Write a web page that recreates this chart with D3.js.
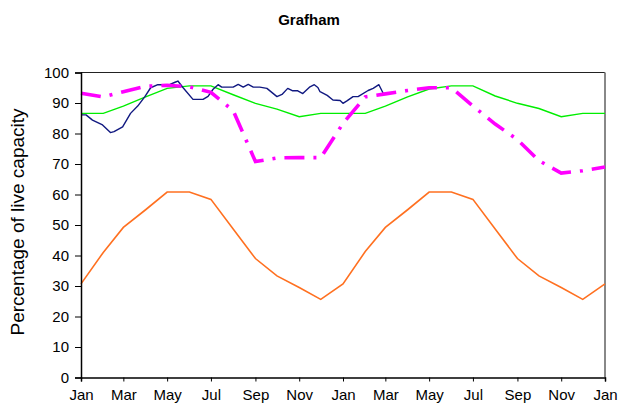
<!DOCTYPE html>
<html>
<head>
<meta charset="utf-8">
<script src="https://cdn.jsdelivr.net/npm/d3@7/dist/d3.min.js"></script>
<style>
  html, body { margin: 0; padding: 0; background: #fff; }
  svg { display: block; font-family: "Liberation Sans", Arial, sans-serif; }
</style>
</head>
<body>
<svg id="chart" width="618" height="407"></svg>
<script>
// Month-start dates covering two years of reservoir storage
const monthDates = [
  "2001-01-01","2001-02-01","2001-03-01","2001-04-01","2001-05-01","2001-06-01",
  "2001-07-01","2001-08-01","2001-09-01","2001-10-01","2001-11-01","2001-12-01",
  "2002-01-01","2002-02-01","2002-03-01","2002-04-01","2002-05-01","2002-06-01",
  "2002-07-01","2002-08-01","2002-09-01","2002-10-01","2002-11-01","2002-12-01",
  "2003-01-01"
];

// Minimum storage curve (orange)
const minimumCurve = [30.7, 41, 49.2, 55, 60.8, 60.8, 58.4, 48.7, 39, 33.3, 29.5, 25.6,
                      30.7, 41.3, 49.2, 55, 60.8, 60.8, 58.4, 48.7, 39, 33.3, 29.5, 25.6, 30.7];

// Average storage curve (green)
const averageCurve = [86.6, 86.6, 89, 92, 94.8, 95.6, 95.6, 92.7, 89.9, 88, 85.5, 86.6,
                      86.6, 86.6, 89, 92, 94.6, 95.6, 95.6, 92.3, 89.9, 88.2, 85.5, 86.6, 86.6];

// Projected storage (magenta dash-dot)
const projectedCurve = [93.2, 92, 93.7, 95.5, 95.8, 95.3, 93.5, 87.5, 70.8, 72, 72.1, 72.1,
                        83.3, 92, 93, 94.1, 95, 95, 89, 83.1, 78, 71.1, 67, 67.8, 69];

// Actual recorded storage (navy)
const actualDates = [
  "2001-01-01","2001-01-08","2001-01-17","2001-01-31","2001-02-11","2001-02-16","2001-02-28",
  "2001-03-11","2001-03-21","2001-03-31","2001-04-08","2001-04-18","2001-04-29","2001-05-05",
  "2001-05-12","2001-05-16","2001-05-23","2001-06-06","2001-06-20","2001-06-27","2001-07-04",
  "2001-07-11","2001-07-16","2001-08-01","2001-08-08","2001-08-15","2001-08-22","2001-08-29",
  "2001-09-07","2001-09-17","2001-10-01","2001-10-08","2001-10-16","2001-10-23","2001-10-30",
  "2001-11-06","2001-11-16","2001-11-22","2001-11-27","2001-11-30","2001-12-10","2001-12-18",
  "2001-12-28","2002-01-01","2002-01-07","2002-01-15","2002-01-22","2002-02-05","2002-02-12",
  "2002-02-20","2002-02-26"
];
const actualValues = [
  86.1, 86.1, 84.4, 82.8, 80.3, 80.6, 82.2,
  86.6, 89, 92.1, 95, 96, 96, 96.1,
  96.8, 97.2, 95.1, 91.2, 91.2, 92.2, 94.5,
  96, 95.2, 95.2, 96.1, 95.2, 96.1, 95.2,
  95.2, 94.8, 92.1, 92.8, 94.8, 94, 94,
  93.1, 95.3, 96, 95.1, 93.7, 92.5, 91,
  90.8, 89.9, 90.8, 92.1, 92.1, 94.1, 94.8,
  96, 93.2
];

const yTicks = [0, 10, 20, 30, 40, 50, 60, 70, 80, 90, 100];
const titleText = "Grafham";
const yLabelText = "Percentage of live capacity";

const parse = d3.timeParse("%Y-%m-%d");
const months = monthDates.map(parse);

const margin = { left: 81, right: 13, top: 72.5, bottom: 29.5 };
const W = 618, H = 407;
const svg = d3.select("#chart");

const x = d3.scaleTime()
  .domain([parse("2001-01-01"), parse("2003-01-01")])
  .range([margin.left, W - margin.right]);
const y = d3.scaleLinear()
  .domain([0, 100])
  .range([H - margin.bottom, margin.top]);

// Plot frame: dark top edge, grey right edge
svg.append("line")
  .attr("x1", x.range()[0]).attr("x2", x.range()[1])
  .attr("y1", y(100)).attr("y2", y(100))
  .attr("stroke", "#222").attr("stroke-width", 1);
svg.append("line")
  .attr("x1", x.range()[1]).attr("x2", x.range()[1])
  .attr("y1", y(100)).attr("y2", y(0))
  .attr("stroke", "#888").attr("stroke-width", 2);

const line = d3.line()
  .x(d => x(d[0]))
  .y(d => y(d[1]));

const zipMonths = vals => months.map((m, i) => [m, vals[i]]);

// Minimum curve
svg.append("path")
  .datum(zipMonths(minimumCurve))
  .attr("d", line)
  .attr("fill", "none")
  .attr("stroke", "#ff7020")
  .attr("stroke-width", 1.6);

// Average curve
svg.append("path")
  .datum(zipMonths(averageCurve))
  .attr("d", line)
  .attr("fill", "none")
  .attr("stroke", "#00ee00")
  .attr("stroke-width", 1.4);

// Actual storage
svg.append("path")
  .datum(actualDates.map((d, i) => [parse(d), actualValues[i]]))
  .attr("d", line)
  .attr("fill", "none")
  .attr("stroke", "#101880")
  .attr("stroke-width", 1.4)
  .attr("stroke-linejoin", "round");

// Projected storage
svg.append("path")
  .datum(zipMonths(projectedCurve))
  .attr("d", line)
  .attr("fill", "none")
  .attr("stroke", "#ff00ff")
  .attr("stroke-width", 3.6)
  .attr("stroke-dasharray", "20,9,3,9");

// Y axis
const yAxis = svg.append("g")
  .attr("transform", `translate(${margin.left},0)`)
  .call(d3.axisLeft(y).tickValues(yTicks).tickSize(6).tickPadding(6).tickFormat(d3.format("d")));
yAxis.select(".domain").attr("stroke", "#000").attr("stroke-width", 1.5);
yAxis.selectAll(".tick line").attr("stroke", "#000");
yAxis.selectAll(".tick text").attr("font-size", 15).attr("fill", "#000")
  .attr("font-family", "Liberation Sans, Arial, sans-serif");

// X axis
const xAxis = svg.append("g")
  .attr("transform", `translate(0,${H - margin.bottom})`)
  .call(d3.axisBottom(x)
    .ticks(d3.timeMonth.every(2))
    .tickSize(4).tickPadding(8)
    .tickFormat(d3.timeFormat("%b")));
xAxis.select(".domain").attr("stroke", "#000").attr("stroke-width", 1.5);
xAxis.selectAll(".tick line").attr("stroke", "#000");
xAxis.selectAll(".tick text").attr("font-size", 15).attr("fill", "#000")
  .attr("font-family", "Liberation Sans, Arial, sans-serif");

// Title
svg.append("text")
  .attr("x", 309).attr("y", 25)
  .attr("text-anchor", "middle")
  .attr("font-size", 15).attr("font-weight", "bold")
  .text(titleText);

// Y axis label
svg.append("text")
  .attr("transform", `translate(24,${(y(0) + y(100)) / 2 - 3}) rotate(-90)`)
  .attr("text-anchor", "middle")
  .attr("font-size", 19)
  .text(yLabelText);
</script>
</body>
</html>
